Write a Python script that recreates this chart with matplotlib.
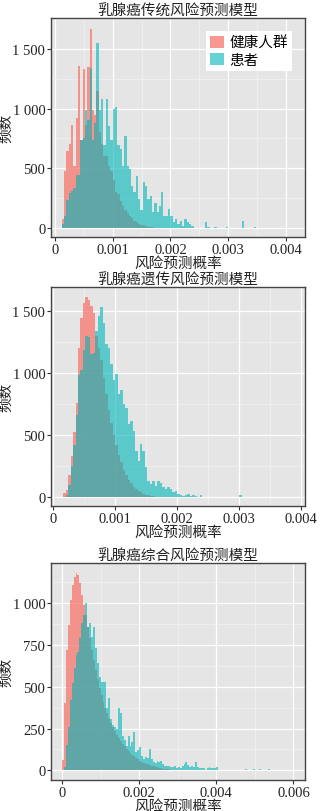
import numpy as np
import matplotlib
matplotlib.use("Agg")
import matplotlib.pyplot as plt
from matplotlib.patches import Patch
from matplotlib.ticker import FuncFormatter, MultipleLocator

plt.rcParams['font.family'] = ['Liberation Serif', 'Noto Sans CJK SC']

titles = ["乳腺癌传统风险预测模型", "乳腺癌遗传风险预测模型", "乳腺癌综合风险预测模型"]
legend_labels = ["健康人群", "患者"]
xlabel = "风险预测概率"
ylabel = "频数"

# panel 1: traditional model, bins of 0.00004 starting at 0.00012
p1_start, p1_width = 0.00012, 0.00004
p1_healthy = [73, 480, 640, 700, 860, 520, 920, 1360, 740, 1330, 860, 1350, 1670, 990,
              950, 1150, 800, 700, 600, 600, 520, 480, 400, 300, 280, 220, 180, 150,
              120, 100, 80, 60, 45, 35, 25, 20, 15, 10, 8, 5]
p1_patient = [30, 100, 230, 290, 310, 330, 440, 440, 740, 750, 990, 900, 1340, 740,
              880, 1550, 990, 1080, 690, 1080, 850, 740, 1000, 1010, 690, 660, 520, 770,
              520, 490, 350, 300, 435, 240, 150, 380, 350, 240, 270, 130, 210, 130,
              185, 300, 100, 100, 155, 100, 45, 70, 30, 60, 15, 70, 45, 30, 15, 0,
              0, 0, 0, 0, 45, 10, 0, 0, 8, 0, 0, 0, 0, 8, 0, 0, 0, 0, 0, 0,
              60, 0, 0, 0, 0, 8]

# panel 2: genetic model, bins of 0.00004 starting at 0.00016
p2_start, p2_width = 0.00016, 0.00004
p2_healthy = [30, 60, 180, 330, 520, 760, 1200, 1440, 1560, 1610, 1590, 1540, 1480, 1300,
              1200, 1100, 960, 830, 700, 600, 500, 420, 340, 280, 220, 180, 140, 110,
              85, 65, 50, 38, 28, 20, 14, 10, 6, 4]
p2_patient = [0, 20, 100, 250, 420, 660, 980, 1020, 1180, 1300, 1290, 1150, 1160, 1340,
              1460, 1530, 1400, 1230, 1200, 1070, 940, 990, 830, 860, 750, 720, 590, 610,
              530, 370, 290, 430, 370, 240, 130, 105, 130, 90, 130, 115, 80, 65, 80, 65,
              38, 50, 25, 15, 10, 20, 24, 10, 15, 5, 0, 13, 0, 0, 0, 0, 0, 0,
              0, 0, 0, 0, 0, 0, 0, 0, 0, 16]

# panel 3: combined model, bins of 0.00005 starting at 0
p3_start, p3_width = 0.0, 0.00005
p3_healthy = [60, 400, 720, 870, 1020, 1110, 1160, 1180, 1170, 1120, 1050, 990, 930, 860,
              790, 720, 660, 600, 545, 495, 450, 410, 375, 345, 315, 285, 258, 235,
              212, 192, 175, 160, 145, 130, 117, 105, 94, 84, 75, 66, 58, 52, 46, 40,
              36, 32, 28, 24, 21, 18, 15, 12, 10, 8, 6, 5, 4, 3, 2, 1]
p3_patient = [0, 20, 150, 260, 420, 520, 610, 690, 710, 790, 880, 930, 1000, 860,
              880, 800, 860, 730, 640, 560, 530, 530, 530, 370, 430, 310, 270, 260,
              250, 370, 345, 207, 180, 148, 207, 148, 168, 227, 108, 120, 138, 88, 68, 78,
              75, 128, 68, 48, 45, 58, 48, 58, 35, 28, 25, 28, 20, 18, 28, 15,
              18, 15, 28, 35, 48, 32, 20, 28, 20, 48, 18, 15, 12, 12, 0, 12,
              18, 15, 12, 15, 18, 0, 0, 0, 0, 0, 0, 0, 0, 0, 0, 0, 0, 0, 0,
              8, 0, 0, 0, 8, 0, 0, 8, 0, 0, 0, 0, 8]

panels = [
    (p1_start, p1_width, p1_healthy, p1_patient),
    (p2_start, p2_width, p2_healthy, p2_patient),
    (p3_start, p3_width, p3_healthy, p3_patient),
]

red = '#F8766D'
teal = '#00B5B9'
alphas = [0.75, 0.6]

fig = plt.figure(figsize=(3.2, 8.12), dpi=100)
rects = [
    [0.159, 0.7069, 0.794, 0.2697],
    [0.159, 0.3756, 0.794, 0.2697],
    [0.159, 0.0382, 0.794, 0.2672],
]
xlims = [(-0.00007, 0.00433), (-0.000037, 0.00406), (-0.00029, 0.0063)]
ylims = [(-78, 1760), (-72, 1691), (-58, 1241)]
xsteps = [0.001, 0.001, 0.002]
ysteps = [500, 500, 250]

fmt_y = FuncFormatter(lambda v, p: f"{int(round(v)):,}".replace(",", " "))
fmt_x = FuncFormatter(lambda v, p: "0" if abs(v) < 1e-12 else f"{v:.3f}")

for i, (start, width, healthy, patient) in enumerate(panels):
    ax = fig.add_axes(rects[i])
    ax.set_facecolor('#E5E5E5')
    for counts, col, a in [(healthy, red, alphas[0]), (patient, teal, alphas[1])]:
        counts = np.array(counts, dtype=float)
        edges = start + width * np.arange(len(counts) + 1)
        centers = (edges[:-1] + edges[1:]) / 2
        ax.hist(centers, bins=edges, weights=counts, color=col, alpha=a,
                linewidth=0, zorder=2)
    ax.set_xlim(*xlims[i])
    ax.set_ylim(*ylims[i])
    ax.xaxis.set_major_locator(MultipleLocator(xsteps[i]))
    ax.xaxis.set_minor_locator(MultipleLocator(xsteps[i] / 2))
    ax.yaxis.set_major_locator(MultipleLocator(ysteps[i]))
    ax.yaxis.set_minor_locator(MultipleLocator(ysteps[i] / 2))
    ax.xaxis.set_major_formatter(fmt_x)
    ax.yaxis.set_major_formatter(fmt_y)
    ax.grid(True, which='major', color='white', linewidth=0.9, zorder=0)
    ax.grid(True, which='minor', color='#F2F2F2', linewidth=0.5, zorder=0)
    ax.set_axisbelow(True)
    ax.tick_params(which='major', direction='out', length=3, width=0.8,
                   color='#333333', labelsize=10.5, pad=1, labelcolor='#222222')
    ax.tick_params(which='minor', length=0)
    for s in ax.spines.values():
        s.set_color('#444444')
        s.set_linewidth(1.0)
    ax.set_title(titles[i], fontsize=10.5, pad=2, color='#222222')
    ax.set_xlabel(xlabel, fontsize=10.5, labelpad=0, color='#222222')
    ax.set_ylabel(ylabel, fontsize=10.5, color='#222222')
    ax.yaxis.set_label_coords(-0.15, 0.5)
    if i == 0:
        handles = [Patch(facecolor=red, alpha=alphas[0], edgecolor='none'),
                   Patch(facecolor=teal, alpha=alphas[1], edgecolor='none')]
        leg = ax.legend(handles, legend_labels, loc='upper right',
                        bbox_to_anchor=(0.95, 0.94), borderaxespad=0,
                        fontsize=10.5, frameon=True, fancybox=False,
                        handlelength=0.9, handleheight=0.9, handletextpad=0.4,
                        labelspacing=0.2, borderpad=0.3)
        leg.get_frame().set_facecolor('white')
        leg.get_frame().set_edgecolor('none')
        leg.get_frame().set_alpha(1)

fig.savefig('out.png', dpi=100)
